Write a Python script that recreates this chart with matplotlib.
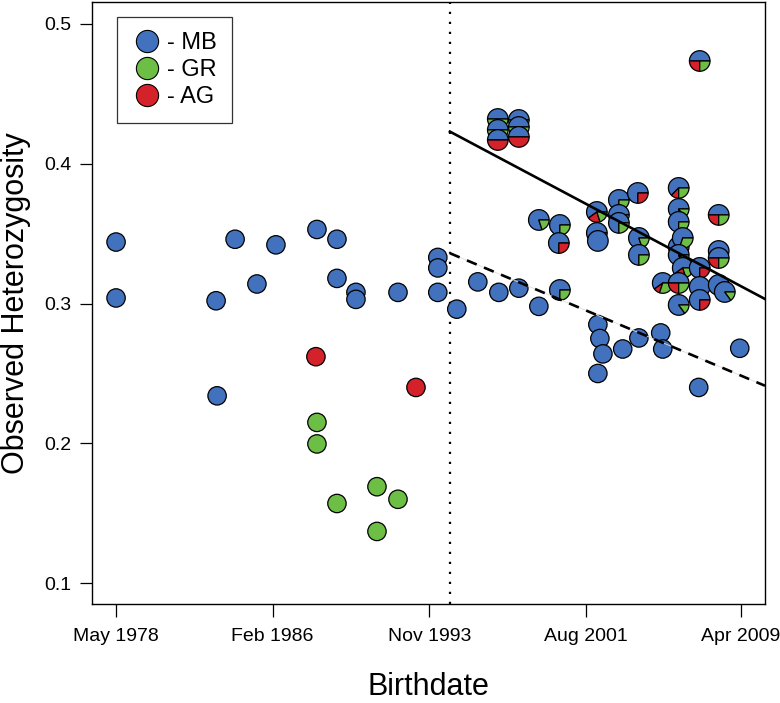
import numpy as np
import matplotlib
matplotlib.use("Agg")
import matplotlib.pyplot as plt
from matplotlib.patches import Wedge, Circle
from matplotlib.lines import Line2D
from matplotlib.transforms import ScaledTranslation

plt.rcParams['font.family'] = ['Liberation Sans', 'DejaVu Sans']

# colours for the three ancestries
col_mb = '#4271BD'
col_gr = '#6CBE45'
col_ag = '#D4212A'

# pure MB birds (decimal year, heterozygosity)
mb_year = [1978.33, 1978.33, 1984.22, 1986.24, 1988.27, 1989.26, 1985.30, 1983.28,
           1989.26, 1990.20, 1990.20, 1992.28, 1994.25, 1994.25, 1994.25, 1995.19,
           1983.33, 1996.23, 1997.27, 1998.26, 1999.25, 2002.17, 2002.27, 2002.42,
           2002.17, 2003.40, 2004.20, 2005.28, 2005.38, 2007.16, 2009.19]
mb_het = [0.344, 0.304, 0.346, 0.342, 0.353, 0.346, 0.314, 0.302,
          0.318, 0.308, 0.303, 0.308, 0.333, 0.3255, 0.308, 0.296,
          0.234, 0.3155, 0.308, 0.311, 0.298, 0.285, 0.275, 0.264,
          0.250, 0.2675, 0.2754, 0.279, 0.2675, 0.240, 0.268]

# pure GR birds
gr_year = [1988.27, 1988.27, 1991.24, 1992.28, 1989.26, 1991.24]
gr_het = [0.215, 0.1996, 0.169, 0.160, 0.157, 0.137]

# pure AG birds
ag_year = [1988.22, 1993.17]
ag_het = [0.262, 0.240]

# admixed birds: position and ancestry fractions
pie_year = [2007.21, 1997.22, 1998.26, 1997.22, 1998.26, 1997.22, 1998.26,
            1999.25, 2000.29, 2000.24, 2000.29, 2002.12, 2002.12, 2002.17,
            2003.21, 2004.15, 2003.21, 2003.21, 2004.20, 2004.20,
            2006.17, 2006.17, 2006.17, 2006.17, 2006.37, 2006.17,
            2008.15, 2008.15, 2008.15, 2006.37, 2007.21, 2005.38, 2006.17,
            2007.21, 2008.15, 2008.45, 2006.17, 2007.21]
pie_het = [0.4735, 0.432, 0.4313, 0.4242, 0.4263, 0.417, 0.4192,
           0.3598, 0.3562, 0.3433, 0.3097, 0.3655, 0.3505, 0.3448,
           0.3741, 0.3791, 0.3634, 0.3577, 0.3469, 0.3348,
           0.3827, 0.3677, 0.3584, 0.3405, 0.3469, 0.3348,
           0.3634, 0.3376, 0.3326, 0.3255, 0.3255, 0.3147, 0.3147,
           0.3119, 0.3133, 0.3083, 0.299, 0.3026]
pie_mb = [0.5, 0.5, 0.5, 0.5, 0.5, 0.5, 0.5,
          0.8, 0.75, 0.75, 0.75, 0.6, 0.8, 1.0,
          0.75, 0.75, 0.8, 0.75, 0.8, 0.75,
          0.625, 0.75, 0.75, 1.0, 0.7, 0.8,
          0.5, 1.0, 0.5, 0.6, 0.75, 0.6, 0.5,
          1.0, 0.7, 0.85, 0.85, 0.75]
pie_gr = [0.25, 0.5, 0.5, 0.5, 0.5, 0.0, 0.0,
          0.2, 0.25, 0.0, 0.25, 0.2, 0.2, 0.0,
          0.25, 0.0, 0.2, 0.25, 0.2, 0.25,
          0.25, 0.15, 0.25, 0.0, 0.3, 0.1,
          0.25, 0.0, 0.25, 0.2, 0.0, 0.3, 0.25,
          0.0, 0.2, 0.15, 0.15, 0.0]
pie_ag = [0.25, 0.0, 0.0, 0.0, 0.0, 0.5, 0.5,
          0.0, 0.0, 0.25, 0.0, 0.2, 0.0, 0.0,
          0.0, 0.25, 0.0, 0.0, 0.0, 0.0,
          0.125, 0.1, 0.0, 0.0, 0.0, 0.1,
          0.25, 0.0, 0.25, 0.2, 0.25, 0.1, 0.25,
          0.0, 0.1, 0.0, 0.0, 0.25]

# regression lines after the split (start year, start value, slope per year)
split_year = 1994.85
fit_admixed = (0.423, -0.00768)
fit_mb = (0.336, -0.00608)

tick_pos = [1978.33, 1986.08, 1993.83, 2001.58, 2009.25]
tick_lab = ['May 1978', 'Feb 1986', 'Nov 1993', 'Aug 2001', 'Apr 2009']

fig = plt.figure(figsize=(7.8, 7.03), dpi=100)
ax = fig.add_axes([92 / 780, 1 - 604 / 703, 673 / 780, 602 / 703])


def place(x, y):
    return fig.dpi_scale_trans + ScaledTranslation(x, y, ax.transData)


def draw_pie(x, y, fracs, colors, r):
    tr = place(x, y)
    parts = [(f, c) for f, c in zip(fracs, colors) if f > 0]
    if len(parts) == 1:
        ax.add_patch(Circle((0, 0), r, transform=tr, facecolor=parts[0][1],
                            edgecolor='black', lw=0.9, zorder=3))
        return
    start = 0.0
    for f, c in parts:
        end = start + 360 * f
        ax.add_patch(Wedge((0, 0), r, start, end, transform=tr, facecolor=c,
                           edgecolor='black', lw=0.9, zorder=3))
        start = end


for xs, ys, c in [(mb_year, mb_het, col_mb), (gr_year, gr_het, col_gr), (ag_year, ag_het, col_ag)]:
    for x, y in zip(xs, ys):
        draw_pie(x, y, [1.0], [c], 0.092)

for i in range(len(pie_year)):
    draw_pie(pie_year[i], pie_het[i], [pie_mb[i], pie_ag[i], pie_gr[i]],
             [col_mb, col_ag, col_gr], 0.103)

ax.set_xlim(1977.14, 2010.44)
ax.set_ylim(0.0851, 0.5157)

ax.axvline(split_year, color='black', lw=1.6, ls=(0, (1, 3.5)), zorder=2)

xx = np.array([split_year, 2010.44])
ax.plot(xx, fit_admixed[0] + fit_admixed[1] * (xx - split_year), color='black', lw=1.9, zorder=4)
ax.plot(xx, fit_mb[0] + fit_mb[1] * (xx - split_year), color='#dddddd', lw=0.6, zorder=4)
ax.plot(xx, fit_mb[0] + fit_mb[1] * (xx - split_year), color='black', lw=1.9,
        ls=(0, (4, 3)), zorder=4)

ax.set_xticks(tick_pos)
ax.set_xticklabels(tick_lab)
ax.set_yticks([0.1, 0.2, 0.3, 0.4, 0.5])
ax.set_yticklabels(['0.1', '0.2', '0.3', '0.4', '0.5'])
ax.tick_params(axis='both', direction='out', length=9, width=0.9, labelsize=14, pad=8)
ax.tick_params(axis='y', pad=6)
for s in ax.spines.values():
    s.set_linewidth(1.0)

ax.set_xlabel('Birthdate', fontsize=22, labelpad=20)
ax.set_ylabel('Observed Heterozygosity', fontsize=22)
ax.yaxis.set_label_coords(-0.09, 0.5)

handles = [Line2D([], [], marker='o', ls='', ms=16, mfc=c, mec='black', mew=0.8)
           for c in [col_mb, col_gr, col_ag]]
leg = ax.legend(handles, ['- MB', '- GR', '- AG'], loc='upper left',
                bbox_to_anchor=(25 / 673, 1 - 15 / 602), fontsize=17, frameon=True,
                fancybox=False, edgecolor='black', handlelength=1.2,
                handletextpad=0.25, labelspacing=0.2, borderpad=0.65,
                borderaxespad=0)
leg.get_frame().set_linewidth(0.9)

fig.savefig('out.png', dpi=100)
